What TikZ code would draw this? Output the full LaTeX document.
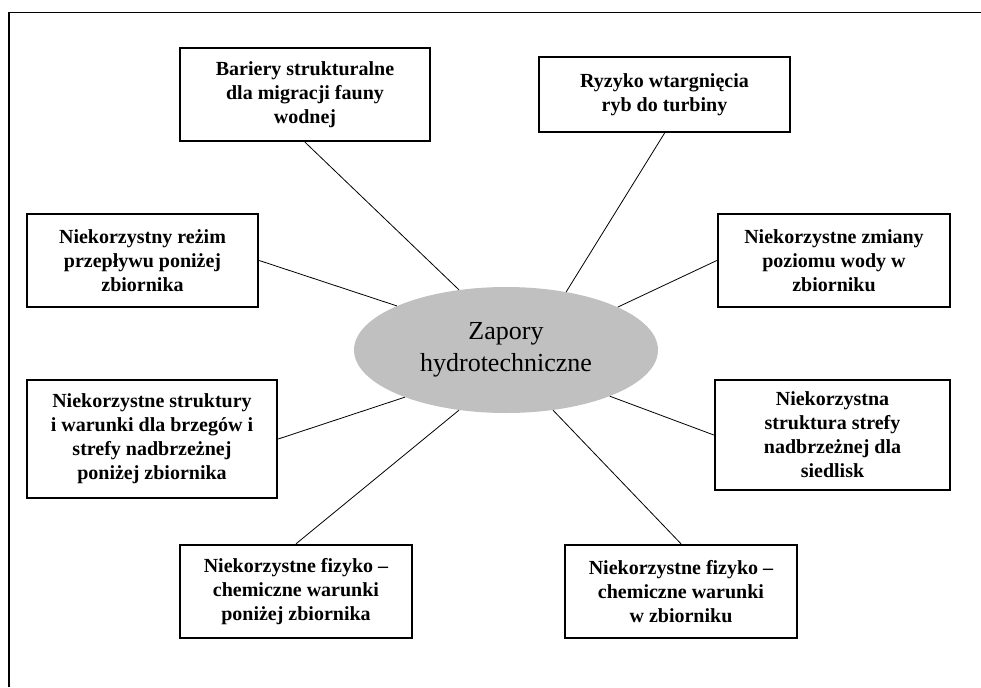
\documentclass[tikz,border=0pt]{standalone}
\usepackage{fontspec}
\setmainfont{Liberation Serif}
\usetikzlibrary{shapes.geometric}
\definecolor{hubgray}{RGB}{192,192,192}

\begin{document}
\begin{tikzpicture}[x=1pt,y=-1pt,
  box/.style={draw,line width=2.4pt,align=center,inner sep=2pt,
    font=\fontsize{20}{24}\selectfont\bfseries},
  hub/.style={ellipse,fill=hubgray,inner sep=0pt,align=center,
    minimum width=304pt,minimum height=126pt,
    font=\fontsize{26}{32}\selectfont},
  link/.style={line width=0.8pt}]
\useasboundingbox (0,0) rectangle (981,687);
% frame, open at right and bottom
\draw[line width=1.6pt] (9,687) -- (9,12.5) -- (981,12.5);
% centre
\node[hub] (dam) at (506,350) {Zapory\\hydrotechniczne};
% upper row
\node[box,minimum width=250pt,minimum height=93pt] (b1) at (305,94.5)
  {Bariery strukturalne\\dla migracji fauny\\wodnej};
\node[box,minimum width=251pt,minimum height=75pt] (b2) at (664.5,94.5)
  {Ryzyko wtargnięcia\\ryb do turbiny};
% middle rows
\node[box,minimum width=231pt,minimum height=93pt] (b3) at (142.5,260.5)
  {Niekorzystny reżim\\przepływu poniżej\\zbiornika};
\node[box,minimum width=232pt,minimum height=93pt] (b5) at (834,260.5)
  {Niekorzystne zmiany\\poziomu wody w\\zbiorniku};
\node[box,minimum width=250pt,minimum height=118pt] (b4) at (152,439)
  {Niekorzystne struktury\\i warunki dla brzegów i\\strefy nadbrzeżnej\\poniżej zbiornika};
\node[box,minimum width=235pt,minimum height=110pt] (b6) at (832.5,435)
  {Niekorzystna\\struktura strefy\\nadbrzeżnej dla\\siedlisk};
% lower row
\node[box,minimum width=232pt,minimum height=93pt] (b7) at (296,591.5)
  {Niekorzystne fizyko --\\chemiczne warunki\\poniżej zbiornika};
\node[box,minimum width=232pt,minimum height=93pt] (b8) at (681,591.5)
  {Niekorzystne fizyko --\\chemiczne warunki\\w zbiorniku};
% connectors
\draw[link] (b1.south) -- (dam.128);
\draw[link] (b2.south) -- (dam.44);
\draw[link] (b3.east) -- (dam.158);
\draw[link] (b5.west) -- (dam.21);
\draw[link] (b4.east) -- (dam.205);
\draw[link] (b6.west) -- (dam.336);
\draw[link] (b7.north) -- (dam.232);
\draw[link] (b8.north) -- (dam.308);
\end{tikzpicture}
\end{document}
